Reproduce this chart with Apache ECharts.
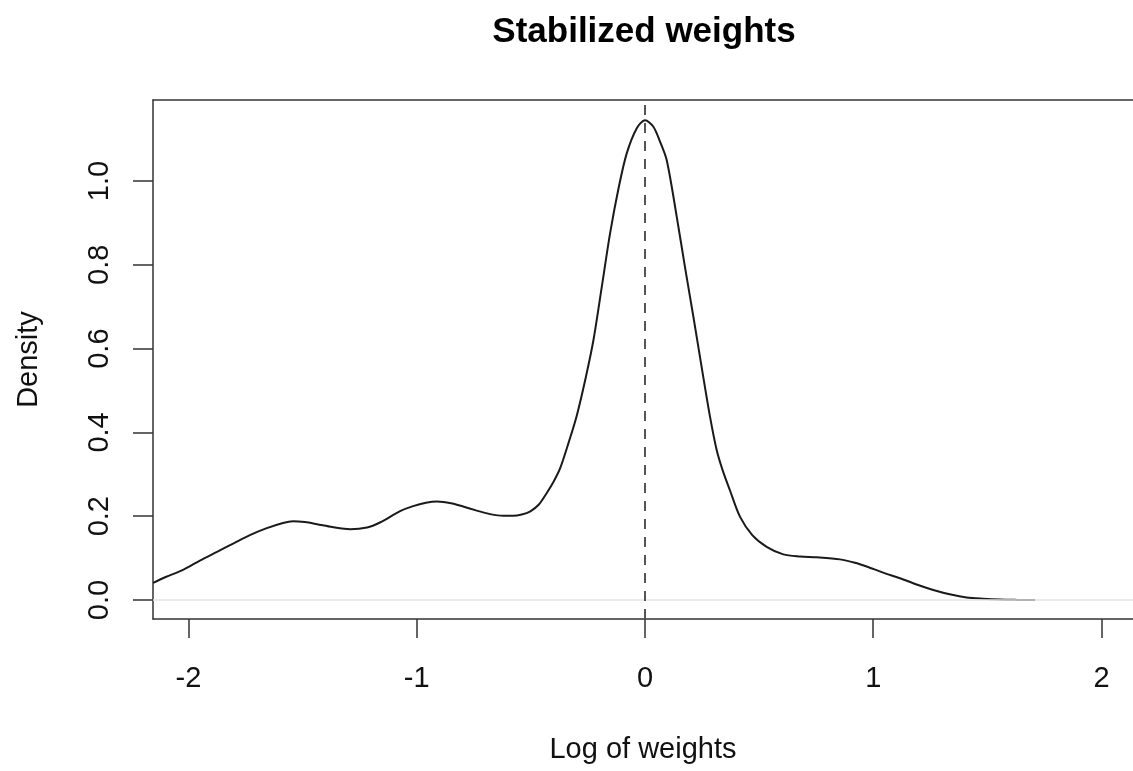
<!DOCTYPE html>
<html>
<head>
<meta charset="utf-8">
<script src="https://cdn.jsdelivr.net/npm/echarts@6/dist/echarts.min.js"></script>
<style>
  html, body { margin: 0; padding: 0; background: #fff; }
  #main { width: 1133px; height: 771px; }
</style>
</head>
<body>
<div id="main"></div>
<script>
// density estimate of log weights
var xValues = [-2.155, -2.10, -2.024, -1.95, -1.875, -1.80, -1.731, -1.66, -1.586, -1.542,
  -1.49, -1.437, -1.37, -1.292, -1.218, -1.161, -1.073, -1.016, -0.96, -0.911,
  -0.85, -0.797, -0.74, -0.679, -0.62, -0.578, -0.54, -0.504, -0.465, -0.431,
  -0.40, -0.372, -0.335, -0.299, -0.26, -0.226, -0.19, -0.153, -0.115, -0.080,
  -0.036, 0, 0.036, 0.065, 0.095, 0.139, 0.175, 0.212, 0.25, 0.285,
  0.314, 0.34, 0.372, 0.416, 0.47, 0.533, 0.606, 0.68, 0.752, 0.854,
  0.92, 0.971, 1.04, 1.117, 1.19, 1.263, 1.34, 1.409, 1.48, 1.555,
  1.63, 1.709];
var densityValues = [0.041, 0.055, 0.072, 0.094, 0.115, 0.136, 0.155, 0.171, 0.184, 0.188,
  0.186, 0.181, 0.174, 0.169, 0.173, 0.185, 0.212, 0.224, 0.232, 0.235,
  0.231, 0.223, 0.214, 0.205, 0.201, 0.201, 0.204, 0.211, 0.228, 0.255,
  0.283, 0.314, 0.375, 0.44, 0.53, 0.62, 0.745, 0.875, 0.985, 1.066,
  1.126, 1.145, 1.130, 1.095, 1.050, 0.915, 0.795, 0.676, 0.550, 0.437,
  0.358, 0.31, 0.262, 0.199, 0.155, 0.127, 0.109, 0.104, 0.102, 0.097,
  0.089, 0.080, 0.066, 0.052, 0.037, 0.024, 0.013, 0.006, 0.003, 0.001,
  0.0003, 0.0];
var xTicks = [-2, -1, 0, 1, 2];
var yTicks = [0, 0.2, 0.4, 0.6, 0.8, 1.0];

var seriesData = [];
for (var i = 0; i < xValues.length; i++) {
    seriesData.push([xValues[i], densityValues[i]]);
}

var font = 'Liberation Sans, Arial, Helvetica, sans-serif';
var chart = echarts.init(document.getElementById('main'), null, {renderer: 'canvas'});

var option = {
    backgroundColor: '#ffffff',
    animation: false,
    title: {
        text: 'Stabilized weights',
        left: 639,
        top: 10,
        textAlign: 'center',
        textStyle: {
            fontFamily: font,
            fontWeight: 'bold',
            fontSize: 35,
            color: '#000'
        }
    },
    grid: {
        left: 153,
        top: 100,
        right: 0,
        height: 519,
        show: false
    },
    xAxis: [{
        type: 'value',
        min: -2.1555,
        max: 2.138,
        name: 'Log of weights',
        nameLocation: 'middle',
        nameGap: 116,
        nameTextStyle: {fontFamily: font, fontSize: 29, color: '#111'},
        splitLine: {show: false},
        axisLine: {show: true, onZero: false, lineStyle: {color: '#333', width: 1.5}},
        axisTick: {show: true, inside: false, length: 19, customValues: xTicks,
            lineStyle: {color: '#333', width: 1.5}},
        axisLabel: {show: true, customValues: xTicks, margin: 45,
            fontFamily: font, fontSize: 29, color: '#111',
            formatter: function (v) { return String(v); }}
    }, {
        // top edge of the box only
        type: 'value',
        position: 'top',
        min: -2.1555,
        max: 2.138,
        splitLine: {show: false},
        axisLine: {show: true, onZero: false, lineStyle: {color: '#333', width: 1.5}},
        axisTick: {show: false},
        axisLabel: {show: false}
    }],
    yAxis: {
        type: 'value',
        min: -0.0453,
        max: 1.1933,
        name: 'Density',
        nameLocation: 'middle',
        nameRotate: 90,
        nameGap: 110,
        nameTextStyle: {fontFamily: font, fontSize: 29, color: '#111'},
        splitLine: {show: false},
        axisLine: {show: true, onZero: false, lineStyle: {color: '#333', width: 1.5}},
        axisTick: {show: true, inside: false, length: 20, customValues: yTicks,
            lineStyle: {color: '#333', width: 1.5}},
        axisLabel: {show: true, customValues: yTicks, rotate: 90, margin: 39,
            fontFamily: font, fontSize: 29, color: '#111',
            formatter: function (v) { return v.toFixed(1); }}
    },
    series: [{
        name: 'density',
        type: 'line',
        xAxisIndex: 0,
        data: seriesData,
        showSymbol: false,
        smooth: 0.3,
        clip: true,
        lineStyle: {color: '#1a1a1a', width: 2},
        markLine: {
            silent: true,
            symbol: 'none',
            label: {show: false},
            data: [
                {yAxis: 0, lineStyle: {color: '#e6e6e6', width: 1.5, type: 'solid'}},
                {xAxis: 0, lineStyle: {color: '#555', width: 2, type: [10, 8]}}
            ]
        }
    }]
};

chart.setOption(option);
</script>
</body>
</html>
